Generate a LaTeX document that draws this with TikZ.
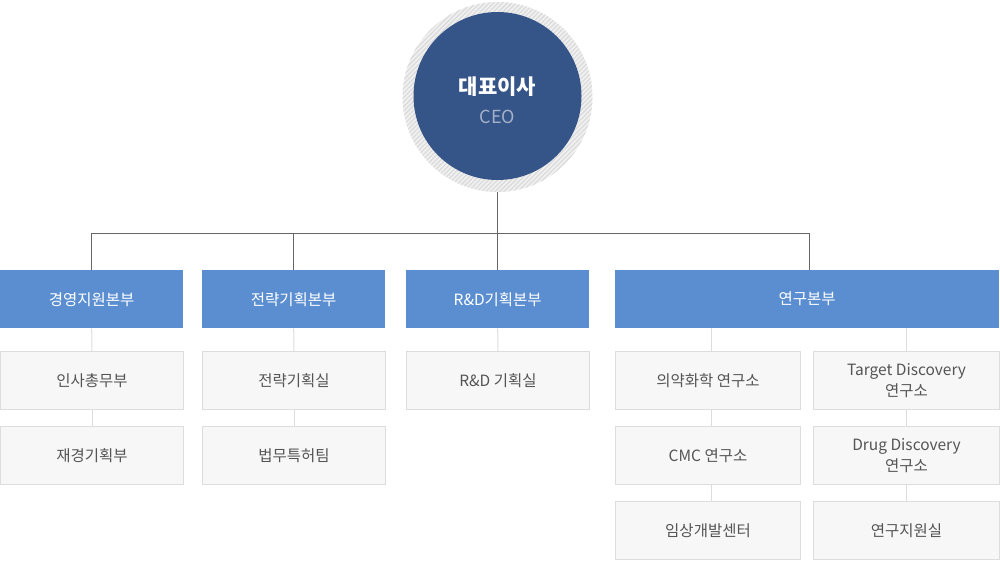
\documentclass[tikz,border=0pt]{standalone}
\usepackage{fontspec}
\setmainfont{Noto Sans CJK KR}
\usetikzlibrary{patterns.meta}
\definecolor{ceoblue}{HTML}{355488}
\definecolor{hdblue}{HTML}{5B8ED0}
\definecolor{boxfill}{HTML}{F7F7F7}
\definecolor{boxline}{HTML}{DDDDDD}
\definecolor{txtgray}{HTML}{555555}
\definecolor{trunk}{HTML}{666666}
\tikzset{
  hdbox/.style={draw=none, fill=hdblue, minimum height=58pt, inner sep=0pt, text=white, font=\fontsize{15.5}{18}\selectfont, anchor=north west},
  subbox/.style={draw=boxline, line width=1pt, fill=boxfill, minimum height=58pt, inner sep=0pt, text=txtgray, font=\fontsize{15.5}{21}\selectfont, align=center, anchor=north west},
  mainline/.style={draw=trunk, line width=1pt},
  subline/.style={draw=boxline, line width=1pt}
}
\begin{document}
\begin{tikzpicture}[x=1pt,y=-1pt]
\useasboundingbox (0,0) rectangle (1000,560);
% CEO
\fill[gray!12] (497.5,97) circle (95);
\fill[pattern={Lines[angle=45,distance=3.2pt,line width=1.1pt]}, pattern color=gray!30] (497.5,97) circle (95);
\node[circle, fill=ceoblue, minimum size=168pt, inner sep=0pt] (ceo) at (497.5,96) {};
\node[text=white, font=\fontsize{21}{25}\selectfont\bfseries] (ceokr) at (497.5,87) {대표이사};
\node[text=white!55!ceoblue, font=\fontsize{18}{21}\selectfont] (ceoen) at (497.5,117) {CEO};
\coordinate (ceob) at (497.5,192);
% headers
\node[hdbox, minimum width=183pt] (h1) at (0,270) {경영지원본부};
\node[hdbox, minimum width=183pt] (h2) at (202,270) {전략기획본부};
\node[hdbox, minimum width=183pt] (h3) at (406,270) {R\&D기획본부};
\node[hdbox, minimum width=384pt] (h4) at (615,270) {연구본부};
% trunk
\coordinate (j) at (497.5,233);
\coordinate (j1) at (91.5,233);
\coordinate (j2) at (293.5,233);
\coordinate (j4) at (809,233);
\draw[mainline] (ceob) -- (j);
\draw[mainline] (j1) -- (j4);
\draw[mainline] (j1) -- (j1 |- h1.north);
\draw[mainline] (j2) -- (j2 |- h2.north);
\draw[mainline] (j) -- (j |- h3.north);
\draw[mainline] (j4) -- (j4 |- h4.north);
% sub boxes
\node[subbox, minimum width=183pt] (a1) at (0,351) {인사총무부};
\node[subbox, minimum width=183pt] (a2) at (0,426) {재경기획부};
\node[subbox, minimum width=183pt] (b1) at (202,351) {전략기획실};
\node[subbox, minimum width=183pt] (b2) at (202,426) {법무특허팀};
\node[subbox, minimum width=183pt] (c1) at (406,351) {R\&D 기획실};
\node[subbox, minimum width=185pt] (d1) at (615,351) {의약화학 연구소};
\node[subbox, minimum width=185pt] (d2) at (615,426) {CMC 연구소};
\node[subbox, minimum width=185pt] (d3) at (615,501) {임상개발센터};
\node[subbox, minimum width=186pt] (e1) at (813,351) {Target Discovery\\연구소};
\node[subbox, minimum width=186pt] (e2) at (813,426) {Drug Discovery\\연구소};
\node[subbox, minimum width=186pt] (e3) at (813,501) {연구지원실};
% light connectors
\draw[subline] (h1.south) -- (a1.north);
\draw[subline] (a1.south) -- (a2.north);
\draw[subline] (h2.south) -- (b1.north);
\draw[subline] (b1.south) -- (b2.north);
\draw[subline] (h3.south) -- (c1.north);
\coordinate (dx) at (711.5,0);
\coordinate (ex) at (906.5,0);
\draw[subline] (dx |- h4.south) -- (dx |- d1.north);
\draw[subline] (dx |- d1.south) -- (dx |- d2.north);
\draw[subline] (dx |- d2.south) -- (dx |- d3.north);
\draw[subline] (ex |- h4.south) -- (ex |- e1.north);
\draw[subline] (ex |- e1.south) -- (ex |- e2.north);
\draw[subline] (ex |- e2.south) -- (ex |- e3.north);
\end{tikzpicture}
\end{document}
